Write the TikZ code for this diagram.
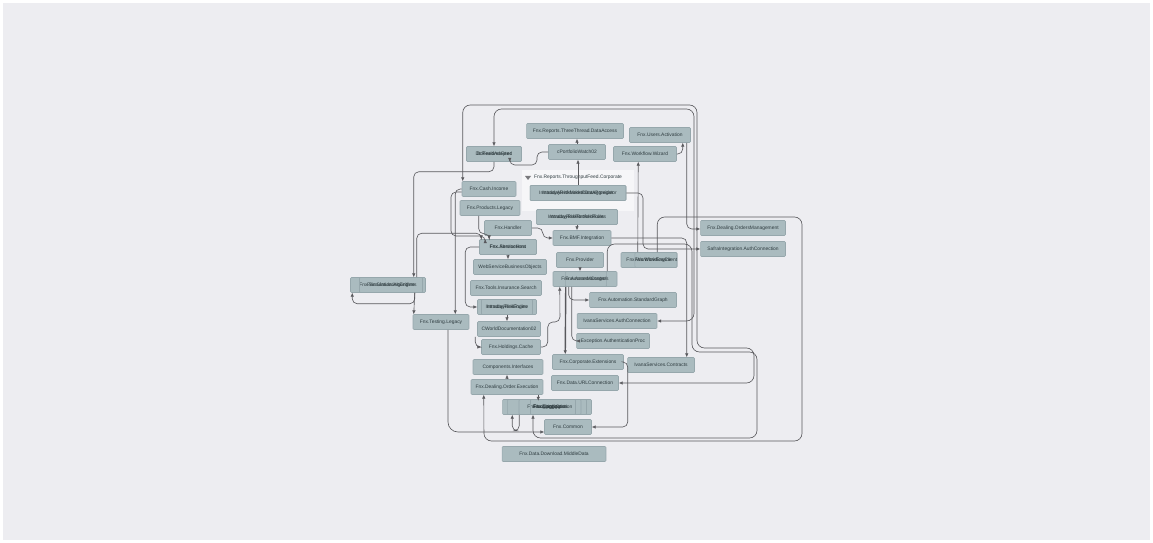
\documentclass[tikz,border=0pt]{standalone}
\usepackage{fontspec}
\setmainfont{Liberation Sans}
\usetikzlibrary{arrows.meta,calc}

\definecolor{bg}{RGB}{237,237,241}
\definecolor{modfill}{RGB}{170,187,191}
\definecolor{moddraw}{RGB}{150,167,172}
\definecolor{modtext}{RGB}{45,58,62}
\definecolor{lk}{RGB}{88,88,92}
\definecolor{panel}{RGB}{246,246,248}

\begin{document}
\begin{tikzpicture}[x=0.02cm, y=-0.02cm,
    mod/.style={draw=moddraw, fill=modfill, rounded corners=0.6pt, line width=0.3pt,
      minimum height=0.3cm, inner sep=0pt, text=modtext, font=\fontsize{2.8}{3}\selectfont},
    modx/.style={mod, fill=none},
    lnk/.style={draw=lk, line width=0.35pt, rounded corners=0.1cm},
    arr/.style={-{Latex[length=2.2pt,width=2pt]}},
    arr2/.style={{Latex[length=2.2pt,width=2pt]}-{Latex[length=2.2pt,width=2pt]}}]

    \fill[white] (0,0) rectangle (1153,543);
    \fill[bg] (3,3) rectangle (1150,540);

    % group panel
    \node (grp) at (578,190.5) [fill=panel, minimum width=2.24cm, minimum height=0.82cm, inner sep=0pt] {};
    \node (grpt) at (578,177) [text=modtext, font=\fontsize{2.8}{3}\selectfont] {Fnx.Reports.ThroughputFeed.Corporate};
    \fill[lk!80] (525,176) -- (531,176) -- (528,180) -- cycle;

    % modules
    \node (da) at (575,131) [mod, minimum width=1.94cm] {Fnx.Reports.ThreeThread.DataAccess};
    \node (ua) at (660,135) [mod, minimum width=1.22cm] {Fnx.Users.Activation};
    \node (pw) at (577,152) [mod, minimum width=1.14cm] {cPortfolioWatch02};
    \node (wiz) at (645,154) [mod, minimum width=1.26cm] {Fnx.Workflow.Wizard};
    \node (dc) at (494,154) [mod, minimum width=1.10cm] {DcRealtimeFeed};
    \node (dcb) at (494,154) [modx, minimum width=1.10cm] {DcFeedAdapter};
    \node (ia) at (578,193) [mod, minimum width=1.92cm] {IntradayAlertMarketDataAggregator};
    \node (iab) at (578,193) [modx, minimum width=1.92cm] {IntradayRiskMarketDataProvider};
    \node (cash) at (489,189) [mod, minimum width=1.08cm] {Fnx.Cash.Income};
    \node (prod) at (490,208) [mod, minimum width=1.20cm] {Fnx.Products.Legacy};
    \node (irp) at (577,217) [mod, minimum width=1.62cm] {IntradayRiskPortfolioRules};
    \node (irpb) at (577,217) [modx, minimum width=1.62cm] {IntradayRiskBrokerRules};
    \node (trf) at (508,228) [mod, minimum width=0.94cm] {Fnx.Handler};
    \node (bmf) at (582,238) [mod, minimum width=1.16cm] {Fnx.BMF.Integration};
    \node (abc) at (508,247) [mod, minimum width=1.14cm] {Fnx.Abstractions};
    \node (abcb) at (508,247) [modx, minimum width=1.14cm] {Fnx.ServiceHost};
    \node (prv) at (580,260) [mod, minimum width=0.94cm] {Fnx.Provider};
    \node (wfe) at (649,260) [mod, minimum width=1.12cm] {Fnx.WorkflowEngine};
    \node (wfeb) at (656,260) [modx, minimum width=0.84cm] {Fnx.WorkflowClient};
    \node (om) at (743,228) [mod, minimum width=1.70cm] {Fnx.Dealing.OrdersManagement};
    \node (saf) at (743,249) [mod, minimum width=1.70cm] {SafraIntegration.AuthConnection};
    \node (wsb) at (510,267) [mod, minimum width=1.46cm] {WebServiceBusinessObjects};
    \node (acc) at (585,279) [mod, minimum width=1.28cm] {Fnx.AccessManagers};
    \node (accb) at (586,279) [modx, minimum width=0.66cm] {Fnx.AccessControl};
    \node (ins) at (506,288) [mod, minimum width=1.42cm] {Fnx.Tools.Insurance.Search};
    \node (sim) at (388,285) [mod, minimum width=1.50cm] {Fnx.Simulation.Algorithms};
    \node (simb) at (391,285) [modx, minimum width=1.26cm] {Fnx.SimulationEngine};
    \node (irk) at (507,307) [mod, minimum width=1.18cm] {IntradayRiskEngine};
    \node (irkb) at (507,307) [modx, minimum width=1.02cm] {IntradayRiskRules};
    \node (asg) at (633,300) [mod, minimum width=1.74cm] {Fnx.Automation.StandardGraph};
    \node (tl) at (441,322) [mod, minimum width=1.12cm] {Fnx.Testing.Legacy};
    \node (cwd) at (509,329) [mod, minimum width=1.26cm] {CWorldDocumentation02};
    \node (isa) at (617,321) [mod, minimum width=1.60cm] {IvanaServices.AuthConnection};
    \node (hc) at (511,347) [mod, minimum width=1.18cm] {Fnx.Holdings.Cache};
    \node (exa) at (613,341) [mod, minimum width=1.46cm] {Exception.AuthenticationProc};
    \node (ci) at (508,367) [mod, minimum width=1.40cm] {Components.Interfaces};
    \node (ce) at (588,362) [mod, minimum width=1.42cm] {Fnx.Corporate.Extensions};
    \node (isc) at (661,365) [mod, minimum width=1.34cm] {IvanaServices.Contracts};
    \node (doe) at (507,387) [mod, minimum width=1.44cm] {Fnx.Dealing.Order.Execution};
    \node (url) at (585,383) [mod, minimum width=1.34cm] {Fnx.Data.URLConnection};
    \node (log) at (547,407) [mod, minimum width=1.78cm] {Fnx.Logging};
    \node (logb) at (547,407) [modx, minimum width=1.58cm] {Fnx.Logging.Core};
    \node (logc) at (550,407) [modx, minimum width=1.24cm] {Fnx.Diagnostics};
    \node (logd) at (553,407) [modx, minimum width=0.90cm] {Fnx.Configuration};
    \node (cmn) at (568,427) [mod, minimum width=0.94cm] {Fnx.Common};
    \node (dl) at (554,454) [mod, minimum width=2.08cm] {Fnx.Data.Download.MiddleData};

    % short links
    \draw [lnk, arr] (pw.north) -- (pw.north |- da.south);
    \draw [lnk, arr] (ia.north) -- (ia.north |- pw.south);
    \draw [lnk, arr] (pw.west) -| (537,165) -| ($(dc.south east)+(-12,0)$);
    \draw [lnk, arr] (wiz.east) -| ($(ua.south east)+(-8,0)$);
    \draw [lnk, arr] ($(ua.south east)+(-4,0)$) |- ($(om.west)+(0,1)$);
    \draw [lnk, arr] (prv.south) -- (prv.south |- acc.north);
    \draw [lnk, arr] (trf.east) -- ++(11,0) |- (bmf.west);
    \draw [lnk, arr] (irp.south) -- (irp.south |- bmf.north);
    \draw [lnk, arr] (abc.south) -- (abc.south |- wsb.north);
    \draw [lnk, arr] ($(prod.south west)+(19,0)$) -- ++(0,18) -| ($(abc.north west)+(10,0)$);
    \draw [lnk, arr] (abc.west) -- ++(-14,0) |- (irk.west);
    \draw [lnk, arr] (irk.south) -- (irk.south |- cwd.north);
    \draw [lnk, arr] ($(cwd.south west)+(-2,0)$) |- (hc.west);
    \draw [lnk, arr] (hc.east) -- ++(7,0) |- (560,322) -- ($(acc.south west)+(7,0)$);
    \draw [lnk, arr, line width=0.8pt] ($(acc.south west)+(13,0)$) -- ($(ce.north west)+(13,0)$);
    \draw [lnk, arr] ($(acc.south west)+(19,0)$) |- (exa.west);
    \draw [lnk, arr] ($(acc.south west)+(16,0)$) |- (asg.west);
    \draw [lnk, arr] (ce.east) -- ++(4,0) |- (cmn.east);
    \draw [lnk, arr] (doe.north) -- (doe.north |- ci.south);
    \draw [lnk, arr] ($(doe.south east)+(-5,0)$) -- ($(doe.south east)+(-5,6)$);
    \draw [lnk, arr] ($(log.south west)+(17,0)$) -- ++(0,16) -| ($(log.south west)+(10,0)$);

    % left side
    \draw [lnk, arr] (dc.south) -- ++(0,10) -| ($(sim.north east)+(-12,0)$);
    \draw [lnk, arr] ($(sim.south east)+(-11,0)$) -- ++(0,11) -| ($(sim.south west)+(2,0)$);
    \draw [lnk, arr] ($(sim.north east)+(-9,0)$) |- ($(abc.north west)+(2,-6)$) -- ($(abc.north west)+(2,0)$);
    \draw [lnk, arr] ($(sim.south east)+(-11,0)$) -- ($(tl.north west)+(1,0)$);
    \draw [lnk, arr] (cash.west) -| ($(tl.north east)+(-14,0)$);
    \draw [lnk, arr] ($(cash.west)+(0,3)$) -| (451,236) -| ($(abc.north west)+(6,0)$);
    \draw [lnk, arr, rounded corners=0.2cm] ($(tl.south)+(7,0)$) |- ($(cmn.west)+(0,5)$);

    % bundle to the right
    \draw [lnk, arr] (bmf.east) -| ($(isc.north east)+(-8,0)$);
    \draw [lnk, arr] (ia.east) -| (643,249) -- (saf.west);
    \draw [lnk, arr] ($(wfe.north west)+(17,0)$) -- ($(wiz.south west)+(25,0)$);
    \draw [lnk, arr, rounded corners=0.15cm] ($(acc.north east)+(-10,0)$) |- (692,244) |- (757,352) |- (533,438) -- ($(log.south)+(-14,0)$);

    % outer loops
    \draw [lnk, arr2, rounded corners=0.15cm] (dc.north) |- (694,109) |- (isa.east);
    \draw [lnk, arr2, rounded corners=0.15cm] ($(cash.north west)+(1,0)$) |- (697,105) |- (754,348) |- (url.east);
    \draw [lnk, arr, rounded corners=0.15cm] ($(wfe.north east)+(-20,0)$) |- (802,217) |- (484,441) -- ($(doe.south west)+(13,0)$);
\end{tikzpicture}
\end{document}
